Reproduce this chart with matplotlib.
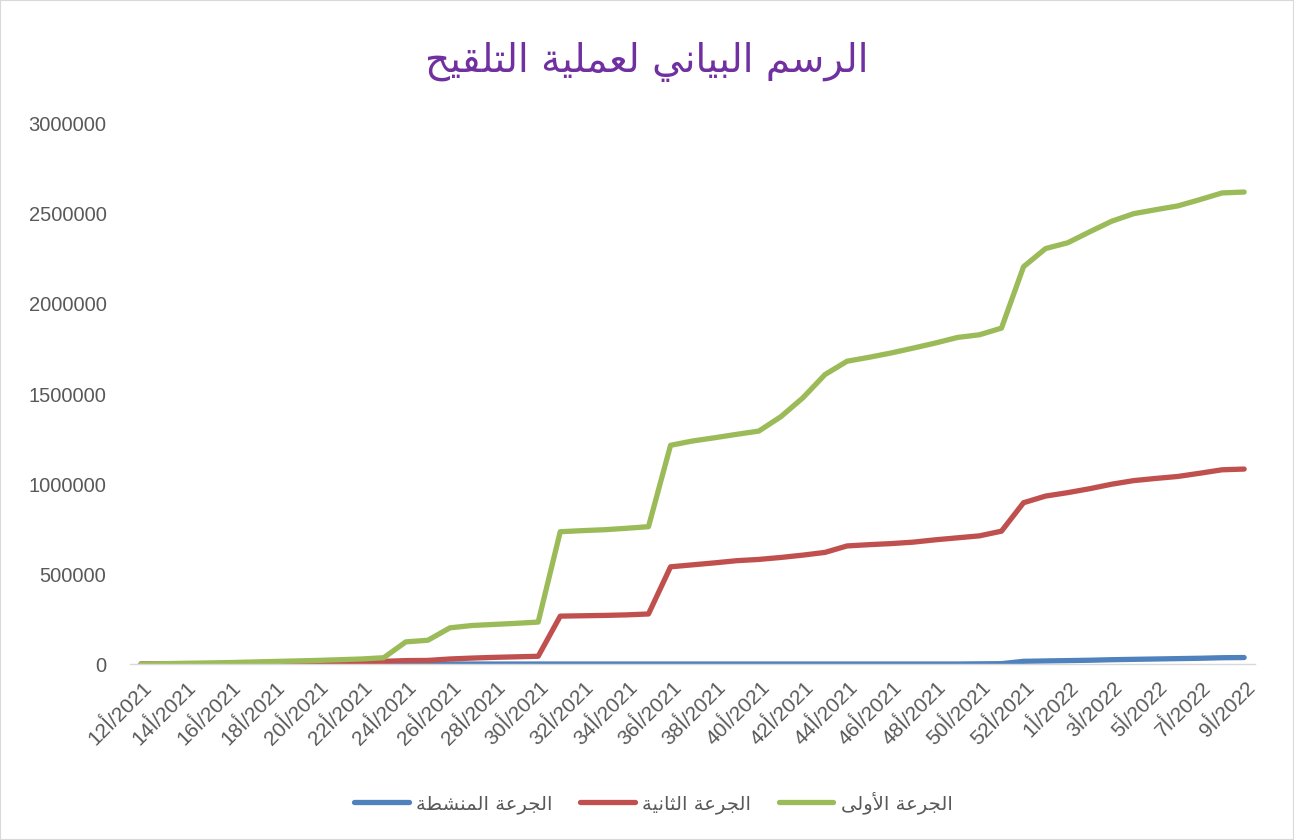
import matplotlib
matplotlib.use("Agg")
import matplotlib.pyplot as plt
from matplotlib.patches import Rectangle

# week labels: 12..53 of 2021 then 1..9 of 2022
week_2021 = list(range(12, 54))
week_2022 = list(range(1, 10))
categories = [f"{w}أ/2021" for w in week_2021] + [f"{w}أ/2022" for w in week_2022]

title = "الرسم البياني لعملية التلقيح"
names = ["الجرعة المنشطة", "الجرعة الثانية", "الجرعة الأولى"]

booster = [0, 0, 0, 0, 0, 0, 0, 0, 0, 0,
           0, 0, 0, 0, 0, 0, 0, 0, 0, 0,
           0, 0, 0, 0, 0, 0, 0, 0, 0, 0,
           0, 0, 0, 0, 0, 0, 0, 0, 1000, 2000,
           15000, 17000, 19000, 21000, 24000, 26000, 28000, 30000, 32000, 35000,
           36000]

second = [0, 0, 0, 0, 500, 1000, 2000, 3000, 5000, 7000,
          10000, 15000, 19000, 20000, 28000, 33000, 37000, 40000, 43000, 266000,
          268000, 270000, 273000, 278000, 540000, 551000, 562000, 574000, 581000, 592000,
          605000, 620000, 656000, 663000, 669000, 677000, 690000, 701000, 712000, 738000,
          896000, 933000, 952000, 974000, 999000, 1019000, 1031000, 1042000, 1060000, 1079000,
          1083000]

first = [0, 2000, 4000, 6000, 8000, 11000, 14000, 17000, 20000, 24000,
         28000, 35000, 123000, 132000, 201000, 214000, 220000, 226000, 233000, 735000,
         741000, 746000, 754000, 763000, 1215000, 1239000, 1257000, 1276000, 1294000, 1374000,
         1479000, 1608000, 1682000, 1704000, 1728000, 1755000, 1783000, 1814000, 1829000, 1866000,
         2207000, 2308000, 2340000, 2401000, 2460000, 2502000, 2524000, 2545000, 2580000, 2617000,
         2622000]

# minimal arabic shaping (no raqm in matplotlib): (isolated, final, initial, medial)
FORMS = {
    "ا": (0xFE8D, 0xFE8E, None, None), "أ": (0xFE83, 0xFE84, None, None),
    "ب": (0xFE8F, 0xFE90, 0xFE91, 0xFE92), "ة": (0xFE93, 0xFE94, None, None),
    "ت": (0xFE95, 0xFE96, 0xFE97, 0xFE98), "ث": (0xFE99, 0xFE9A, 0xFE9B, 0xFE9C),
    "ج": (0xFE9D, 0xFE9E, 0xFE9F, 0xFEA0), "ح": (0xFEA1, 0xFEA2, 0xFEA3, 0xFEA4),
    "ر": (0xFEAD, 0xFEAE, None, None), "س": (0xFEB1, 0xFEB2, 0xFEB3, 0xFEB4),
    "ش": (0xFEB5, 0xFEB6, 0xFEB7, 0xFEB8), "ط": (0xFEC1, 0xFEC2, 0xFEC3, 0xFEC4),
    "ع": (0xFEC9, 0xFECA, 0xFECB, 0xFECC), "ق": (0xFED5, 0xFED6, 0xFED7, 0xFED8),
    "ل": (0xFEDD, 0xFEDE, 0xFEDF, 0xFEE0), "م": (0xFEE1, 0xFEE2, 0xFEE3, 0xFEE4),
    "ن": (0xFEE5, 0xFEE6, 0xFEE7, 0xFEE8), "و": (0xFEED, 0xFEEE, None, None),
    "ى": (0xFEEF, 0xFEF0, None, None), "ي": (0xFEF1, 0xFEF2, 0xFEF3, 0xFEF4),
}
LAM_ALEF = {"ا": (0xFEFB, 0xFEFC), "أ": (0xFEF7, 0xFEF8)}


def shape(s):
    out = []
    i = 0
    while i < len(s):
        c = s[i]
        prev = s[i - 1] if i > 0 else ""
        joins_prev = prev in FORMS and FORMS[prev][2] is not None and c in FORMS
        if c == "ل" and i + 1 < len(s) and s[i + 1] in LAM_ALEF:
            lig = LAM_ALEF[s[i + 1]]
            out.append(chr(lig[1] if joins_prev else lig[0]))
            i += 2
            continue
        if c not in FORMS:
            out.append(c)
            i += 1
            continue
        nxt = s[i + 1] if i + 1 < len(s) else ""
        joins_next = FORMS[c][2] is not None and nxt in FORMS
        iso, fin, ini, med = FORMS[c]
        if joins_prev and joins_next:
            out.append(chr(med))
        elif joins_prev:
            out.append(chr(fin))
        elif joins_next:
            out.append(chr(ini))
        else:
            out.append(chr(iso))
        i += 1
    return "".join(out)[::-1]


plt.rcParams["font.family"] = ["DejaVu Sans"]

fig = plt.figure(figsize=(12.94, 8.40), dpi=100)
ax = fig.add_axes([0.1005, 0.2095, 0.8695, 0.6429])

x = list(range(len(categories)))
colors = ["#4F81BD", "#C0504D", "#9BBB59"]
for vals, name, col in zip([booster, second, first], names, colors):
    ax.plot(x, vals, color=col, lw=3.8, solid_capstyle="round",
            solid_joinstyle="round", label=shape(name))

ax.set_xlim(-0.5, len(categories) - 0.5)
ax.set_ylim(0, 3000000)
ax.set_yticks(range(0, 3000001, 500000))
ax.set_yticklabels([str(v) for v in range(0, 3000001, 500000)],
                   fontsize=14.5, color="#595959", family=["Liberation Sans"])
ax.set_xticks(x[::2])
ax.set_xticklabels(categories[::2], rotation=45, ha="right", va="top",
                   rotation_mode="anchor", fontsize=15, color="#595959",
                   family=["Liberation Sans", "DejaVu Sans"])
ax.tick_params(axis="y", length=0, pad=17)
ax.tick_params(axis="x", length=0, pad=9)

for side in ["top", "right", "left"]:
    ax.spines[side].set_visible(False)
ax.spines["bottom"].set_color("#D9D9D9")
ax.spines["bottom"].set_linewidth(1)

fig.text(0.5, 0.926, shape(title), ha="center", va="center",
         fontsize=28, color="#7030A0")

fig.legend(loc="center", bbox_to_anchor=(0.505, 0.045), ncol=3, frameon=False,
           fontsize=14, handlelength=2.8, handletextpad=0.4, columnspacing=1.4,
           labelcolor="#595959")

fig.patches.append(Rectangle((0, 0), 1, 1, transform=fig.transFigure,
                             fill=False, edgecolor="#D9D9D9", lw=1.5))

fig.savefig("out.png", dpi=100)
